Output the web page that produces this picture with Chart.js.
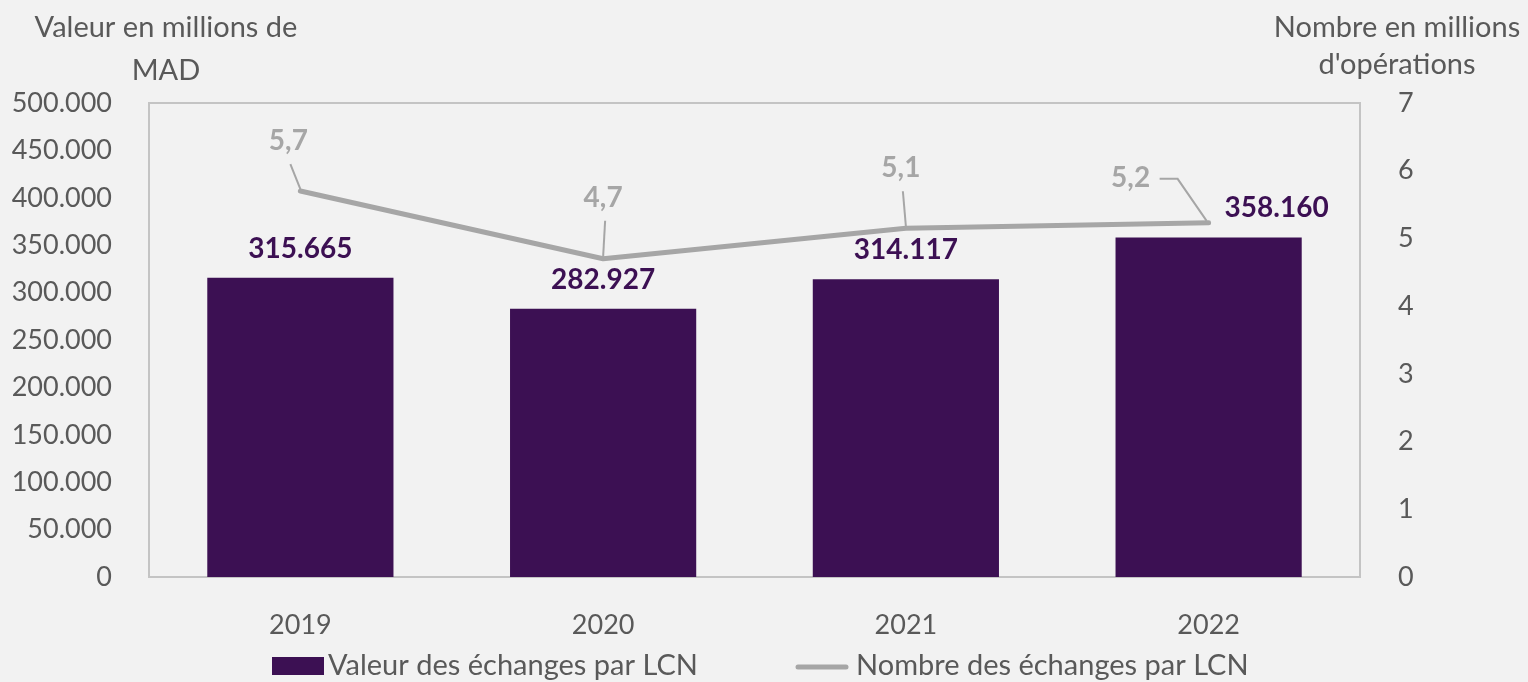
<!DOCTYPE html>
<html>
<head>
<meta charset="utf-8">
<script src="https://cdn.jsdelivr.net/npm/chart.js@4.4.0/dist/chart.umd.min.js"></script>
<style>
  html, body { margin: 0; padding: 0; background: #f2f2f2; }
  #wrap { width: 1528px; height: 682px; }
</style>
</head>
<body>
<div id="wrap"><canvas id="chart" width="1528" height="682"></canvas></div>
<script>
const years = ["2019", "2020", "2021", "2022"];
const valeurs = [315665, 282927, 314117, 358160];
const nombres = [5.7, 4.7, 5.15, 5.23];
const nombreLabels = ["5,7", "4,7", "5,1", "5,2"];
const leftTicks = [0, 50000, 100000, 150000, 200000, 250000, 300000, 350000, 400000, 450000, 500000];
const rightTicks = [0, 1, 2, 3, 4, 5, 6, 7];

const PURPLE = "#3c1053";
const GREY_LINE = "#a6a6a6";
const TEXT = "#595959";
const FONT = "Lato, 'Open Sans', sans-serif";

// label offsets (style only, not data)
const barLabelShift = [0, 0, 0, 68];
const lineLabelShift = [[-12, -50], [0, -61], [-5, -60], [-78, -45]];

const fmtThousands = (v) => String(v).replace(/\B(?=(\d{3})+(?!\d))/g, ".");

const decorPlugin = {
  id: "decor",
  beforeDatasetsDraw(chart) {
    const { ctx, chartArea: a } = chart;
    ctx.save();
    ctx.strokeStyle = "#c4c4c4";
    ctx.lineWidth = 2;
    ctx.strokeRect(a.left, a.top, a.right - a.left, a.bottom - a.top);
    ctx.restore();
  },
  afterDatasetsDraw(chart) {
    const { ctx } = chart;
    ctx.save();
    ctx.textAlign = "center";
    ctx.textBaseline = "middle";

    // axis titles
    ctx.font = `29px ${FONT}`;
    ctx.fillStyle = TEXT;
    ctx.fillText("Valeur en millions de", 166, 28);
    ctx.fillText("MAD", 166, 71);
    ctx.fillText("Nombre en millions", 1397, 28);
    ctx.fillText("d'opérations", 1397, 65);

    // bar labels
    ctx.font = `bold 28px ${FONT}`;
    ctx.fillStyle = PURPLE;
    chart.getDatasetMeta(0).data.forEach((bar, i) => {
      ctx.fillText(fmtThousands(valeurs[i]), bar.x + barLabelShift[i], bar.y - 29);
    });

    // line labels with leader lines
    ctx.font = `bold 28px ${FONT}`;
    ctx.fillStyle = GREY_LINE;
    ctx.strokeStyle = GREY_LINE;
    ctx.lineWidth = 2;
    chart.getDatasetMeta(1).data.forEach((pt, i) => {
      const [dx, dy] = lineLabelShift[i];
      const lx = pt.x + dx, ly = pt.y + dy;
      ctx.fillText(nombreLabels[i], lx, ly);
      ctx.beginPath();
      if (i === 3) {
        ctx.moveTo(lx + 29, ly + 1);
        ctx.lineTo(lx + 47, ly + 1);
        ctx.lineTo(pt.x - 2, pt.y - 2);
      } else {
        ctx.moveTo(lx + 2, ly + 23);
        ctx.lineTo(pt.x, pt.y - 2);
      }
      ctx.stroke();
    });

    // legend
    ctx.textAlign = "left";
    ctx.font = `29px ${FONT}`;
    ctx.fillStyle = PURPLE;
    ctx.fillRect(272, 657, 52, 18);
    ctx.fillStyle = TEXT;
    ctx.fillText("Valeur des échanges par LCN", 328, 666);
    ctx.strokeStyle = GREY_LINE;
    ctx.lineWidth = 5;
    ctx.lineCap = "round";
    ctx.beginPath();
    ctx.moveTo(798, 667);
    ctx.lineTo(846, 667);
    ctx.stroke();
    ctx.fillText("Nombre des échanges par LCN", 856, 666);
    ctx.restore();
  }
};

new Chart(document.getElementById("chart"), {
  data: {
    labels: years,
    datasets: [
      {
        type: "bar",
        label: "Valeur des échanges par LCN",
        data: valeurs,
        backgroundColor: PURPLE,
        yAxisID: "y",
        categoryPercentage: 1,
        barPercentage: 0.615,
        order: 2,
      },
      {
        type: "line",
        label: "Nombre des échanges par LCN",
        data: nombres,
        borderColor: GREY_LINE,
        borderWidth: 5,
        borderCapStyle: "round",
        borderJoinStyle: "round",
        pointRadius: 0,
        tension: 0,
        yAxisID: "y1",
        order: 1,
      },
    ],
  },
  options: {
    responsive: false,
    animation: false,
    layout: { padding: { top: 103, left: 0, right: 0, bottom: 0 } },
    plugins: {
      legend: { display: false },
      tooltip: { enabled: false },
    },
    scales: {
      x: {
        offset: true,
        grid: { display: false },
        border: { display: false },
        ticks: { color: TEXT, font: { family: FONT, size: 27 }, padding: 24 },
        afterFit: (s) => { s.height = 105; },
      },
      y: {
        position: "left",
        min: 0,
        max: 500000,
        grid: { display: false },
        border: { display: false },
        afterBuildTicks: (s) => { s.ticks = leftTicks.map((v) => ({ value: v })); },
        ticks: {
          color: TEXT,
          font: { family: FONT, size: 27 },
          padding: 29,
          callback: (v) => fmtThousands(v),
        },
        afterFit: (s) => { s.width = 149; },
      },
      y1: {
        position: "right",
        min: 0,
        max: 7,
        grid: { display: false },
        border: { display: false },
        afterBuildTicks: (s) => { s.ticks = rightTicks.map((v) => ({ value: v })); },
        ticks: {
          color: TEXT,
          font: { family: FONT, size: 27 },
          padding: 30,
        },
        afterFit: (s) => { s.width = 168; },
      },
    },
  },
  plugins: [decorPlugin],
});
</script>
</body>
</html>
